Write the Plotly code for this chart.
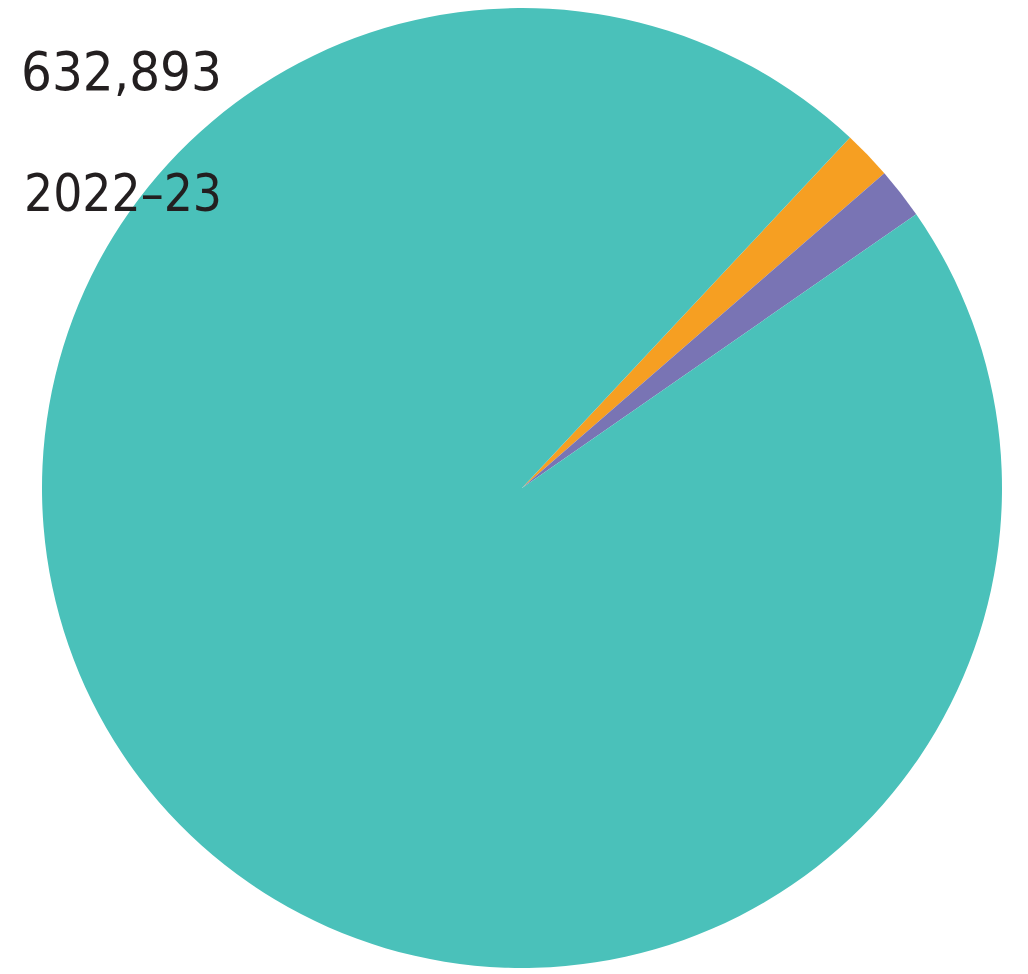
import plotly.graph_objects as go

# Data (total shown as 632,893)
labels = ["Orange segment", "Purple segment", "Teal segment"]
values = [10400, 10900, 611593]
colors = ["#F69F22", "#7974B4", "#4AC1BA"]
total_label = "632,893"
period_label = "2022–23"

W, H = 1028, 974
OFF = 8  # page body margin offset

cx, cy, r = 522 - OFF, 488 - OFF, 480  # pie centre in figure px (from top-left)
fig = go.Figure(
    go.Pie(
        labels=labels,
        values=values,
        sort=False,
        direction="clockwise",
        rotation=43.1,
        marker=dict(colors=colors, line=dict(width=0)),
        textinfo="none",
        hoverinfo="label+value+percent",
        showlegend=False,
        domain=dict(x=[(cx - r) / W, (cx + r) / W],
                    y=[max(0, (H - cy - r) / H), min(1, (H - cy + r) / H)]),
    )
)

font_family = "DejaVu Sans Condensed, sans-serif"
fig.add_annotation(
    text=total_label, xref="paper", yref="paper",
    x=(224 - OFF) / W, y=1 - (72 - OFF) / H, xanchor="right", yanchor="middle",
    showarrow=False, font=dict(family=font_family, size=54, color="#231F20"),
)
fig.add_annotation(
    text=period_label, xref="paper", yref="paper",
    x=(224 - OFF) / W, y=1 - (193 - OFF) / H, xanchor="right", yanchor="middle",
    showarrow=False, font=dict(family=font_family, size=51, color="#231F20"),
)

fig.update_layout(
    width=W, height=H,
    margin=dict(l=0, r=0, t=0, b=0),
    paper_bgcolor="white", plot_bgcolor="white",
)

fig.write_html("out.html")
